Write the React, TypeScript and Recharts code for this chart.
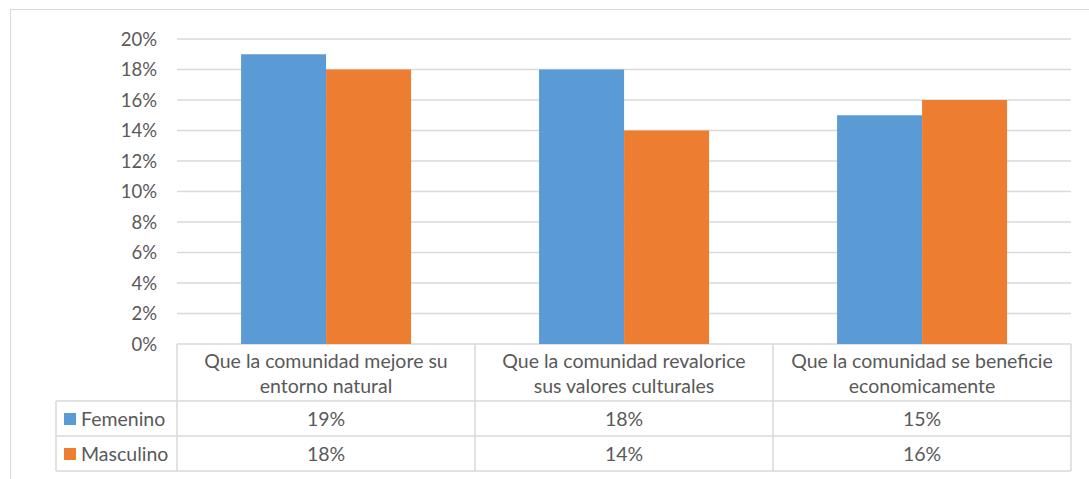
import React from "react";
import { BarChart, Bar, XAxis, YAxis, CartesianGrid } from "recharts";

const categories = [
  ["Que la comunidad mejore su", "entorno natural"],
  ["Que la comunidad revalorice", "sus valores culturales"],
  ["Que la comunidad se beneficie", "economicamente"],
];
const femenino = [0.19, 0.18, 0.15];
const masculino = [0.18, 0.14, 0.16];
const yTicks = [0, 0.02, 0.04, 0.06, 0.08, 0.1, 0.12, 0.14, 0.16, 0.18, 0.2];

const series = [
  { key: "femenino", name: "Femenino", color: "#5b9bd5", values: femenino },
  { key: "masculino", name: "Masculino", color: "#ed7d31", values: masculino },
];

const data = categories.map((c, i) => ({
  name: c.join(" "),
  femenino: femenino[i],
  masculino: masculino[i],
}));

const W = 1089;
const H = 479;
const LEFT = 177;
const RIGHT = 18;
const TOP = 39;
const AXIS_H = 135;
const BAND = (W - LEFT - RIGHT) / categories.length;
const LEGEND_X = 56;
const FONT = "Lato, 'Noto Sans', sans-serif";
const TEXT = "#595959";
const LINE = "#d9d9d9";
const pct = (v: number) => `${Math.round(v * 100)}%`;

// header rows of the data table, drawn under each category
const HEADER_H = 57;
const ROW_H = 35;

const TableTick = (props: any) => {
  const { x, y, index } = props;
  const l = x - BAND / 2;
  const r = x + BAND / 2;
  const last = index === categories.length - 1;
  const rows = [y + HEADER_H, y + HEADER_H + ROW_H, y + HEADER_H + 2 * ROW_H];
  return (
    <g fontFamily={FONT} fontSize={19.5} fill={TEXT}>
      <line x1={l} x2={l} y1={y} y2={rows[2]} stroke={LINE} strokeWidth={1.5} />
      {last && <line x1={r} x2={r} y1={y} y2={rows[2]} stroke={LINE} strokeWidth={1.5} />}
      {rows.map((ry, k) => (
        <line key={k} x1={index === 0 ? LEGEND_X : l} x2={r} y1={ry} y2={ry} stroke={LINE} strokeWidth={1.5} />
      ))}
      <text x={x} y={y + 24} textAnchor="middle">{categories[index][0]}</text>
      <text x={x} y={y + 49} textAnchor="middle">{categories[index][1]}</text>
      {series.map((s, k) => (
        <text key={s.key} x={x} y={rows[k] + 25} textAnchor="middle">{pct(s.values[index])}</text>
      ))}
      {index === 0 && (
        <g>
          <line x1={LEGEND_X} x2={LEGEND_X} y1={rows[0]} y2={rows[2]} stroke={LINE} strokeWidth={1.5} />
          {series.map((s, k) => (
            <g key={s.key}>
              <rect x={LEGEND_X + 8} y={rows[k] + 12} width={12} height={12} fill={s.color} />
              <text x={LEGEND_X + 25} y={rows[k] + 25} textAnchor="start">{s.name}</text>
            </g>
          ))}
        </g>
      )}
    </g>
  );
};

export default function App() {
  return (
    <div style={{ position: "absolute", left: 0, top: 0, width: W, height: H, background: "#fff", overflow: "hidden" }}>
      <div
        style={{
          position: "absolute",
          left: 10,
          top: 9,
          width: W,
          height: H,
          border: `1.5px solid ${LINE}`,
        }}
      />
      <BarChart
        width={W}
        height={H}
        data={data}
        margin={{ top: TOP, right: RIGHT, left: 0, bottom: 0 }}
        barCategoryGap="21.5%"
        barGap={0}
        style={{ position: "absolute", left: 0, top: 0 }}
      >
        <CartesianGrid vertical={false} stroke={LINE} strokeWidth={1.5} />
        <XAxis
          dataKey="name"
          height={AXIS_H}
          axisLine={false}
          tickLine={false}
          tickSize={0}
          tickMargin={0}
          interval={0}
          tick={<TableTick />}
        />
        <YAxis
          width={LEFT}
          domain={[0, 0.2]}
          ticks={yTicks}
          tickFormatter={pct}
          axisLine={false}
          tickLine={false}
          tickSize={0}
          tickMargin={20}
          tick={{ fill: TEXT, fontSize: 18.5, fontFamily: FONT }}
        />
        {series.map((s) => (
          <Bar key={s.key} dataKey={s.key} name={s.name} fill={s.color} isAnimationActive={false} />
        ))}
      </BarChart>
    </div>
  );
}
